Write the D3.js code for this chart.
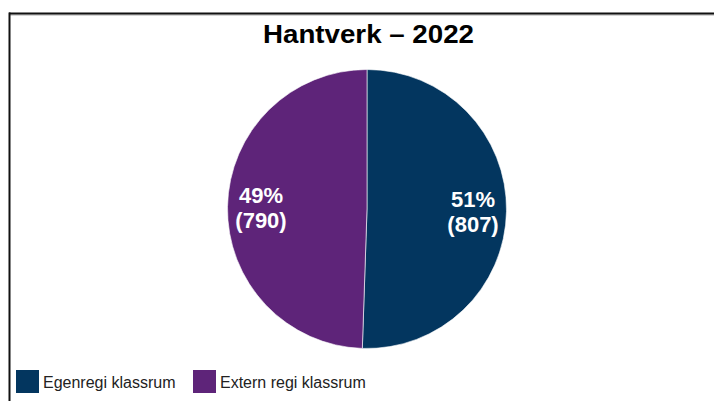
<!DOCTYPE html>
<html>
<head>
<meta charset="utf-8">
<script src="https://cdn.jsdelivr.net/npm/d3@7"></script>
<style>
  html, body { margin: 0; padding: 0; background: #fff; }
  svg { display: block; font-family: "Liberation Sans", Arial, sans-serif; }
</style>
</head>
<body>
<svg id="chart" width="714" height="401"></svg>
<script>
// Data
const categories = ["Egenregi klassrum", "Extern regi klassrum"];
const counts = [807, 790];
const colors = ["#03365f", "#5e2479"];
const title = "Hantverk – 2022";

const W = 714, H = 401;
const svg = d3.select("#chart");

// Frame: top and left edges of the chart box
svg.append("line").attr("x1", 9).attr("x2", W).attr("y1", 15).attr("y2", 15)
  .attr("stroke", "#aaa").attr("stroke-width", 1);
svg.append("line").attr("x1", 9).attr("x2", W).attr("y1", 13.5).attr("y2", 13.5)
  .attr("stroke", "#111").attr("stroke-width", 2);
svg.append("line").attr("x1", 9.5).attr("x2", 9.5).attr("y1", 12.5).attr("y2", H)
  .attr("stroke", "#111").attr("stroke-width", 2);

// Title
svg.append("text")
  .attr("x", 368.5).attr("y", 43)
  .attr("text-anchor", "middle")
  .attr("font-size", 26.5).attr("font-weight", "bold")
  .attr("textLength", 211).attr("lengthAdjust", "spacingAndGlyphs")
  .attr("fill", "#000")
  .text(title);

// Pie
const cx = 367, cy = 209, r = 139.5;
const total = d3.sum(counts);
const data = categories.map((c, i) => ({ name: c, value: counts[i], color: colors[i] }));

const pie = d3.pie().value(d => d.value).sort(null);
const arc = d3.arc().innerRadius(0).outerRadius(r);
const labelArc = d3.arc().innerRadius(r * 0.76).outerRadius(r * 0.76);

const g = svg.append("g").attr("transform", `translate(${cx},${cy})`);
const arcs = pie(data);

g.selectAll("path.slice")
  .data(arcs)
  .join("path")
  .attr("class", "slice")
  .attr("d", arc)
  .attr("fill", d => d.data.color)
  .attr("stroke", "#fff")
  .attr("stroke-width", 0.6);

// Slice labels: percentage and count
const labels = g.selectAll("text.lbl")
  .data(arcs)
  .join("text")
  .attr("class", "lbl")
  .attr("transform", d => {
    const [x, y] = labelArc.centroid(d);
    return `translate(${x},${y})`;
  })
  .attr("text-anchor", "middle")
  .attr("fill", "#fff")
  .attr("font-size", 22)
  .attr("font-weight", "bold");

labels.append("tspan")
  .attr("x", 0).attr("y", -4)
  .text(d => Math.round(d.data.value / total * 100) + "%");
labels.append("tspan")
  .attr("x", 0).attr("y", 21)
  .text(d => "(" + d.data.value + ")");

// Legend
const legendX = [16, 193];
const leg = svg.append("g");
const items = leg.selectAll("g.item")
  .data(data)
  .join("g")
  .attr("class", "item")
  .attr("transform", (d, i) => `translate(${legendX[i]},370)`);
items.append("rect")
  .attr("width", 23).attr("height", 23)
  .attr("fill", d => d.color);
items.append("text")
  .attr("x", 27).attr("y", 18)
  .attr("font-size", 16)
  .attr("fill", "#222")
  .text(d => d.name);
</script>
</body>
</html>
